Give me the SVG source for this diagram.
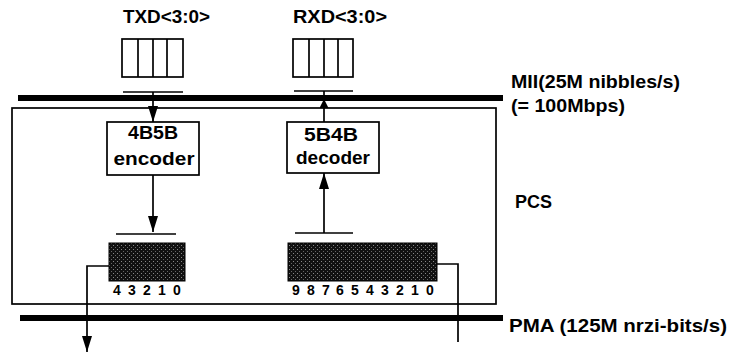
<svg xmlns="http://www.w3.org/2000/svg" width="730" height="353" viewBox="0 0 730 353">
<defs>
<style>
text{font-family:"Liberation Sans",Arial,sans-serif;font-weight:bold;fill:#000}
.lbl{font-size:18px}
.box{font-size:19px}
.num{font-size:14px}
.thin{stroke:#000;stroke-width:1.7;fill:none}
.reg{fill:#fff;stroke:#000;stroke-width:1.7}
.bus{stroke:#000;fill:none}
.sh{fill:url(#dots);stroke:#000;stroke-width:1}
</style>
<pattern id="dots" width="4" height="4" patternUnits="userSpaceOnUse">
<rect width="4" height="4" fill="#111"/>
<rect x="1" y="1" width="1" height="1" fill="#888"/>
<rect x="3" y="3" width="1" height="1" fill="#666"/>
</pattern>
<marker id="ah" markerUnits="userSpaceOnUse" markerWidth="16" markerHeight="10" refX="16" refY="5" orient="auto">
<path d="M0,0 L16,5 L0,10 z" fill="#000"/>
</marker>
<marker id="ahs" markerUnits="userSpaceOnUse" markerWidth="9" markerHeight="9" refX="9" refY="4.5" orient="auto">
<path d="M0,0 L9,4.5 L0,9 z" fill="#000"/>
</marker>
</defs>

<g id="pcs">
<rect x="12" y="108" width="484" height="196" class="thin" stroke-width="1.4"/>
<text class="lbl" x="515" y="208">PCS</text>
</g>

<g id="mii">
<line x1="18" y1="98" x2="503" y2="98" class="bus" stroke-width="6"/>
<text class="lbl" x="511" y="88" textLength="169" lengthAdjust="spacingAndGlyphs">MII(25M nibbles/s)</text>
<text class="lbl" x="511" y="112" textLength="114" lengthAdjust="spacingAndGlyphs">(= 100Mbps)</text>
</g>

<g id="pma">
<line x1="20" y1="318" x2="503" y2="318" class="bus" stroke-width="6"/>
<text class="lbl" x="509" y="332" textLength="218" lengthAdjust="spacingAndGlyphs" style="font-size:19px">PMA (125M nrzi-bits/s)</text>
</g>

<g id="txd">
<text class="lbl" x="123" y="23" textLength="87" lengthAdjust="spacingAndGlyphs">TXD&lt;3:0&gt;</text>
<rect x="122" y="39" width="61" height="38" class="reg"/>
<line x1="138" y1="39" x2="138" y2="77" class="thin"/>
<line x1="153" y1="39" x2="153" y2="77" class="thin"/>
<line x1="167" y1="39" x2="167" y2="77" class="thin"/>
<line x1="123" y1="92" x2="183" y2="92" class="thin"/>
</g>

<g id="rxd">
<text class="lbl" x="293" y="23" textLength="94" lengthAdjust="spacingAndGlyphs">RXD&lt;3:0&gt;</text>
<rect x="293" y="39" width="60" height="38" class="reg"/>
<line x1="309" y1="39" x2="309" y2="77" class="thin"/>
<line x1="324" y1="39" x2="324" y2="77" class="thin"/>
<line x1="338" y1="39" x2="338" y2="77" class="thin"/>
<line x1="294" y1="91" x2="353" y2="91" class="thin"/>
</g>

<g id="encoder">
<rect x="107" y="122" width="92" height="53" class="reg"/>
<text class="box" x="153" y="139" text-anchor="middle" textLength="50" lengthAdjust="spacingAndGlyphs">4B5B</text>
<text class="box" x="154" y="165" text-anchor="middle" textLength="81" lengthAdjust="spacingAndGlyphs">encoder</text>
</g>

<g id="decoder">
<rect x="287" y="122" width="92" height="51" class="reg"/>
<text class="box" x="331" y="141" text-anchor="middle" textLength="54" lengthAdjust="spacingAndGlyphs">5B4B</text>
<text class="box" x="333" y="164" text-anchor="middle" textLength="74" lengthAdjust="spacingAndGlyphs">decoder</text>
</g>

<g id="tx-shift">
<line x1="116" y1="234" x2="176" y2="234" class="thin"/>
<rect x="109" y="243" width="76" height="38" class="sh"/>
<g class="num" text-anchor="middle">
<text x="117" y="295">4</text><text x="132" y="295">3</text><text x="147" y="295">2</text><text x="162" y="295">1</text><text x="177" y="295">0</text>
</g>
</g>

<g id="rx-shift">
<line x1="295" y1="233" x2="353" y2="233" class="thin"/>
<rect x="288" y="243" width="149" height="38" class="sh"/>
<g class="num" text-anchor="middle">
<text x="296" y="295">9</text><text x="311" y="295">8</text><text x="326" y="295">7</text><text x="340" y="295">6</text><text x="355" y="295">5</text><text x="370" y="295">4</text><text x="385" y="295">3</text><text x="400" y="295">2</text><text x="415" y="295">1</text><text x="430" y="295">0</text>
</g>
</g>

<g id="connectors">
<line x1="153" y1="92" x2="153" y2="122" class="thin" marker-end="url(#ah)"/>
<line x1="153" y1="175" x2="153" y2="232" class="thin" marker-end="url(#ah)"/>
<line x1="324" y1="122" x2="324" y2="99" class="thin" marker-end="url(#ahs)"/>
<line x1="324" y1="91" x2="324" y2="99" class="thin"/>
<line x1="324" y1="233" x2="324" y2="173" class="thin" marker-end="url(#ah)"/>
<polyline points="109,266 87,266 87,352" class="thin" marker-end="url(#ah)"/>
<polyline points="437,264 458,264 458,342" class="thin"/>
</g>
</svg>
